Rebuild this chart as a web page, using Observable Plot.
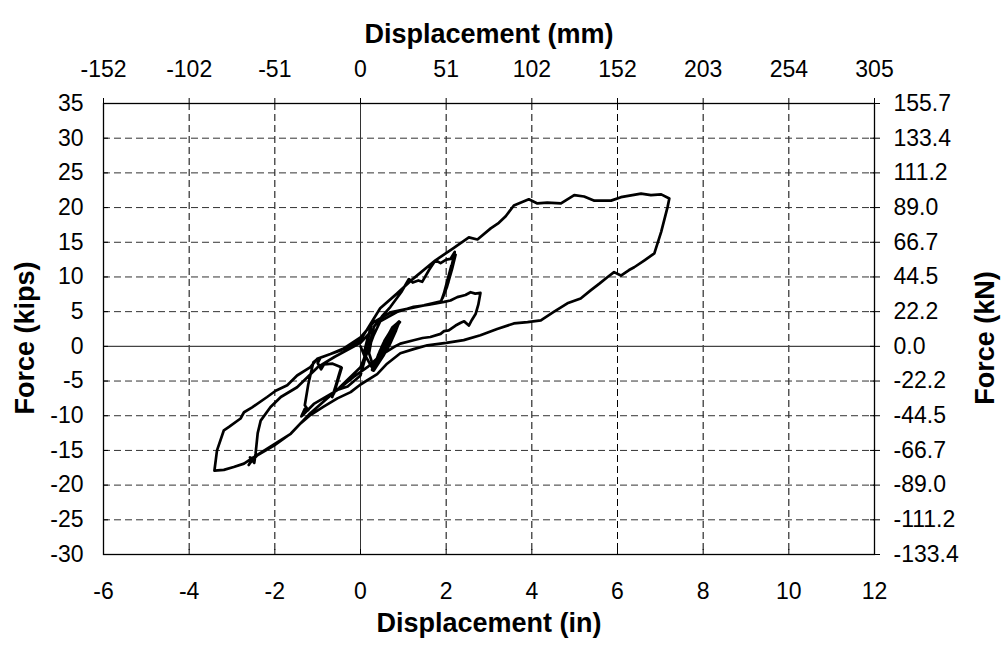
<!DOCTYPE html>
<html>
<head>
<meta charset="utf-8">
<script src="https://cdn.jsdelivr.net/npm/d3@7"></script>
<script src="https://cdn.jsdelivr.net/npm/@observablehq/plot@0.6"></script>
<style>
  html, body { margin: 0; padding: 0; background: #fff; }
  #chart { width: 1001px; height: 650px; }
</style>
</head>
<body>
<div id="chart"></div>
<script>
// ---- tick values and labels ----
const xTicks = [-6, -4, -2, 0, 2, 4, 6, 8, 10, 12];
const mmLabels = ["-152", "-102", "-51", "0", "51", "102", "152", "203", "254", "305"];
const yTicks = [35, 30, 25, 20, 15, 10, 5, 0, -5, -10, -15, -20, -25, -30];
const kNLabels = ["155.7", "133.4", "111.2", "89.0", "66.7", "44.5", "22.2", "0.0",
                  "-22.2", "-44.5", "-66.7", "-89.0", "-111.2", "-133.4"];

// ---- hysteresis record, [displacement (in), force (kips)] ----
// small initial cycles near the origin
const initialCycles = [
  [0.00, 0.0], [0.10, -1.5], [0.05, -3.0], [0.12, -0.5], [0.25, 3.0], [0.15, 0.8], [0.08, -1.0],
  [0.30, -3.4], [0.50, -1.5], [0.68, 0.3], [0.80, 2.0], [0.88, 3.5], [0.72, 2.4], [0.56, 0.8], [0.44, -1.0], [0.34, -2.5],
  [0.28, -3.3], [0.47, -1.6], [0.65, 0.2], [0.78, 2.1], [0.90, 3.6], [0.75, 2.6], [0.58, 0.6], [0.46, -1.2], [0.36, -2.6],
  [0.31, -3.5], [0.53, -1.4], [0.70, 0.5], [0.82, 2.2], [0.86, 3.2], [0.70, 2.1], [0.53, 0.4], [0.41, -1.3], [0.32, -2.8],
  [0.27, -3.4], [0.49, -1.2], [0.66, 0.6], [0.79, 2.4], [0.92, 3.5], [0.77, 2.5], [0.60, 0.9], [0.47, -0.8], [0.37, -2.3],
  [0.29, -3.2], [0.51, -1.3], [0.71, 0.7], [0.84, 2.5], [0.89, 3.3], [0.73, 2.0], [0.55, 0.2], [0.43, -1.4], [0.33, -2.9],
  [0.30, -3.5], [0.48, -1.8], [0.64, 0.0], [0.77, 1.8], [0.87, 3.4], [0.74, 2.7], [0.59, 1.0], [0.45, -0.7], [0.35, -2.4],
  [0.28, -3.3], [0.52, -1.0], [0.69, 0.8], [0.81, 2.6], [0.91, 3.4], [0.76, 2.2], [0.57, 0.5], [0.44, -1.1], [0.34, -2.7],
  [0.30, -3.4], [0.50, -1.6], [0.67, 0.1], [0.83, 2.3], [0.88, 3.3], [0.71, 1.9], [0.54, 0.1], [0.40, -1.6], [0.31, -3.1]
];
// cycle to +2.2 in / -0.65 in
const cycle1 = [
  [0.20, -1.0], [0.31, 2.8], [0.50, 4.3], [0.70, 5.7], [0.95, 7.8], [1.13, 9.7], [1.22, 9.2],
  [1.35, 9.5], [1.44, 9.3], [1.60, 11.0], [1.75, 12.4], [1.87, 12.0], [2.00, 12.5], [2.10, 12.6], [2.20, 13.6],
  [2.12, 11.0], [2.00, 8.5], [1.90, 6.8], [2.05, 9.5], [2.18, 13.0], [2.10, 10.8], [1.95, 7.5],
  [2.08, 10.0], [2.22, 13.2], [2.14, 11.2], [2.02, 8.6], [1.92, 7.0], [2.12, 11.6], [2.05, 9.2], [1.88, 6.5],
  [1.48, 5.9], [1.09, 5.4], [0.70, 4.9], [0.31, 3.5], [0.00, 1.3], [-0.47, -0.6], [-0.93, -1.6],
  [-1.00, -2.4], [-0.92, -3.3], [-0.85, -2.6], [-0.65, -2.5], [-0.45, -3.0], [-0.55, -5.2], [-0.66, -7.3],
  [-0.52, -4.5], [-0.44, -3.1], [-0.58, -6.0], [-0.64, -7.0], [-0.50, -4.0], [-0.46, -3.2], [-0.62, -6.8],
  [-0.54, -5.0], [-0.48, -3.6], [-0.60, -6.4]
];
// cycle to +2.8 in / -1.4 in
const cycle2 = [
  [-0.30, -5.8], [0.00, -4.2], [0.12, -1.5], [0.30, 1.5], [0.46, 3.6], [0.85, 4.95], [1.24, 5.7],
  [1.60, 6.0], [1.95, 6.4], [2.10, 6.6], [2.26, 7.1], [2.45, 7.4], [2.57, 7.8], [2.68, 7.6], [2.80, 7.7],
  [2.75, 6.0], [2.69, 4.7], [2.60, 3.8], [2.53, 3.0], [2.42, 3.6], [2.34, 3.4], [2.22, 3.0], [2.06, 2.3],
  [1.95, 2.2], [1.87, 1.8], [1.63, 1.35], [1.45, 1.2], [1.24, 0.87], [0.93, 0.4], [0.78, -0.1],
  [0.47, -1.3], [0.16, -3.0], [-0.16, -4.4], [-0.54, -6.3], [-1.09, -8.3], [-1.30, -9.6], [-1.38, -10.1],
  [-1.30, -9.0], [-1.22, -9.2], [-1.30, -8.5], [-1.22, -5.5], [-1.10, -2.3], [-1.00, -1.8],
  [-0.70, -1.1], [-0.31, -0.1], [0.00, 0.9]
];
// large cycle to +7.25 in / -2.6 in
const cycle3 = [
  [0.46, 5.5], [0.85, 7.6], [1.24, 9.8], [1.75, 12.4], [2.18, 14.2], [2.53, 15.7], [2.73, 15.4],
  [3.04, 17.0], [3.23, 17.8], [3.39, 18.75], [3.58, 20.3], [3.93, 21.2], [4.13, 20.6], [4.36, 20.7],
  [4.68, 20.6], [4.99, 21.8], [5.22, 21.6], [5.46, 21.0], [5.85, 21.0], [6.08, 21.5], [6.55, 22.0],
  [6.78, 21.8], [7.02, 21.9], [7.21, 21.3],
  [7.17, 20.1], [7.02, 16.5], [6.86, 13.4], [6.63, 12.4], [6.39, 11.4], [6.27, 11.0], [6.08, 10.2],
  [5.92, 10.7], [5.77, 10.0], [5.57, 9.0], [5.38, 8.1], [5.14, 6.9], [4.83, 6.2], [4.52, 5.0],
  [4.21, 3.75], [3.90, 3.5], [3.58, 3.3], [3.19, 2.5], [2.80, 1.6], [2.41, 0.9], [2.00, 0.5],
  [1.56, 0.15], [1.24, -0.4], [0.93, -1.0], [0.62, -2.5], [0.39, -4.0], [0.00, -5.5], [-0.23, -6.6],
  [-0.54, -7.5], [-0.86, -8.7], [-1.17, -9.9], [-1.40, -11.1], [-1.63, -12.6], [-2.02, -14.3],
  [-2.41, -15.7], [-2.55, -16.6], [-2.61, -17.1], [-2.52, -16.2], [-2.58, -16.0], [-2.48, -16.8],
  [-2.45, -15.5], [-2.40, -12.5], [-2.33, -10.7], [-2.10, -8.75], [-1.86, -7.3], [-1.48, -5.9],
  [-1.00, -3.0], [-0.60, -1.5], [0.00, 0.5], [0.30, 2.5]
];
// final excursion to -3.4 in and reload
const cycle4 = [
  [0.20, 0.0], [0.00, -3.0], [-0.50, -6.0], [-1.20, -9.8], [-1.63, -12.6], [-2.40, -15.6],
  [-2.72, -16.9], [-2.96, -17.4], [-3.19, -17.8], [-3.41, -17.9],
  [-3.35, -15.0], [-3.19, -12.1], [-3.07, -11.6], [-2.80, -10.4], [-2.72, -9.5], [-2.53, -8.8],
  [-2.18, -7.3], [-1.98, -6.4], [-1.71, -5.6], [-1.48, -4.2], [-1.17, -3.0], [-1.01, -1.8],
  [-0.70, -1.1], [-0.31, -0.15], [0.00, 0.6]
];

const record = [...initialCycles, ...cycle1, ...cycle2, ...cycle3, ...cycle4]
  .map(([x, y]) => ({x, y}));
const gridXValues = xTicks.filter(d => d !== 0 && d !== -6 && d !== 12);
const gridYValues = yTicks.filter(d => d !== 0 && d !== 35 && d !== -30);

const FONT = "'Liberation Sans', Arial, Helvetica, sans-serif";

const chart = Plot.plot({
  width: 1001,
  height: 650,
  marginLeft: 103,
  marginRight: 127,
  marginTop: 103,
  marginBottom: 96,
  style: {fontFamily: FONT, fontSize: "23px", color: "black", background: "white"},
  x: {domain: [-6, 12], label: null},
  y: {domain: [-30, 35], label: null},
  marks: [
    Plot.gridX(gridXValues, {stroke: "black", strokeOpacity: 1, strokeWidth: 1, strokeDasharray: "7,4"}),
    Plot.gridY(gridYValues, {stroke: "#333", strokeOpacity: 1, strokeWidth: 1, strokeDasharray: "7,4"}),
    Plot.ruleX([0], {stroke: "#333", strokeWidth: 1}),
    Plot.ruleY([0], {stroke: "#444", strokeWidth: 1.2}),
    Plot.frame({stroke: "black", strokeWidth: 1.3}),
    // bottom axis (inches), inward ticks
    Plot.axisX(xTicks, {anchor: "bottom", tickSize: -5, tickPadding: 33, fontSize: 23, label: null, tickFormat: d => String(d)}),
    // top axis (mm), outward ticks
    Plot.axisX(xTicks, {anchor: "top", tickSize: 6, tickPadding: 21, fontSize: 23, label: null, tickFormat: (d, i) => mmLabels[i]}),
    // left axis (kips), inward ticks
    Plot.axisY(yTicks, {anchor: "left", tickSize: -5, tickPadding: 25, fontSize: 23, label: null, tickFormat: d => String(d)}),
    // right axis (kN), crossing ticks
    Plot.axisY(yTicks, {anchor: "right", tickSize: 5, tickPadding: 14, fontSize: 23, label: null, tickFormat: (d, i) => kNLabels[i]}),
    Plot.axisY(yTicks, {anchor: "right", tickSize: -5, tickPadding: 0, label: null, tickFormat: () => ""}),
    // the hysteresis curve
    Plot.line(record, {x: "x", y: "y", stroke: "black", strokeWidth: 2.7, strokeLinejoin: "round", strokeLinecap: "round"}),
    // axis titles
    Plot.text(["Displacement (mm)"], {frameAnchor: "top", dy: -80, fontSize: 27, fontWeight: "bold"}),
    Plot.text(["Displacement (in)"], {frameAnchor: "bottom", dy: 77, fontSize: 27, fontWeight: "bold"}),
    Plot.text(["Force (kips)"], {frameAnchor: "left", textAnchor: "middle", dx: -78, dy: 9, rotate: -90, fontSize: 27, fontWeight: "bold"}),
    Plot.text(["Force (kN)"], {frameAnchor: "right", textAnchor: "middle", dx: 111, dy: 9, rotate: -90, fontSize: 27, fontWeight: "bold"})
  ]
});
document.getElementById("chart").appendChild(chart);
</script>
</body>
</html>
